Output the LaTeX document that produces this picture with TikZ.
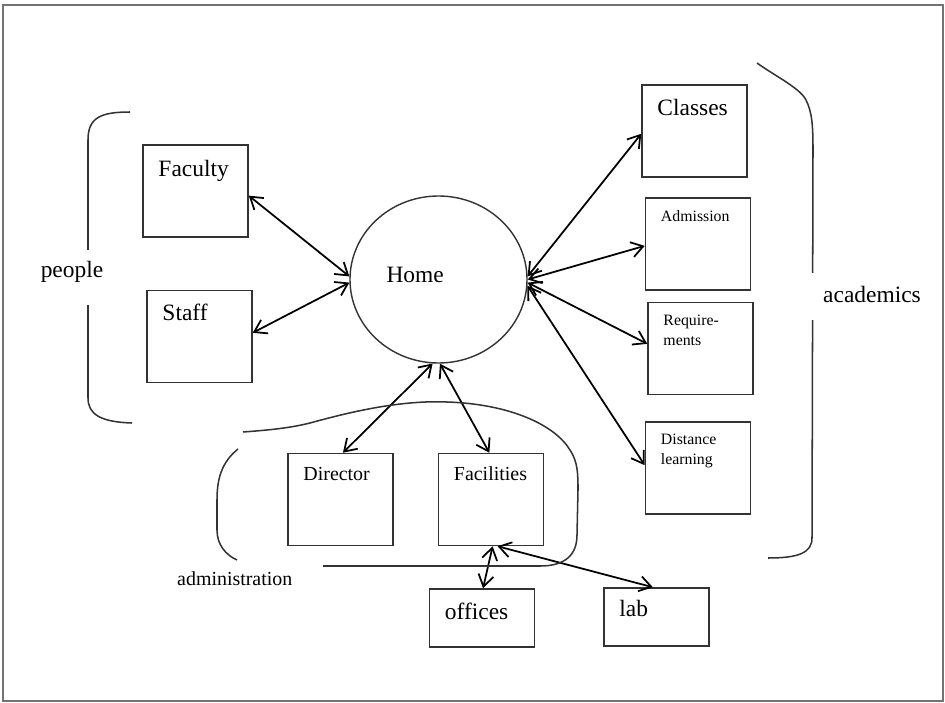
\documentclass[tikz,border=0pt]{standalone}
\usepackage{fontspec}
\setmainfont{Liberation Serif}
\usetikzlibrary{arrows.meta,shapes.geometric}

\tikzset{
  box/.style={draw=black!80, line width=1.3pt, inner sep=0pt, minimum width=3.15cm, minimum height=2.76cm},
  flat/.style={minimum height=1.74cm},
  big/.style={font=\fontsize{20}{24}\selectfont},
  mid/.style={font=\fontsize{17}{20}\selectfont},
  small/.style={font=\fontsize{13.5}{17}\selectfont, align=left},
  tag/.style={anchor=base west, inner sep=0pt, xshift=0.48cm, yshift=-#1},
  link/.style={{Straight Barb[length=10pt,width=13pt]}-{Straight Barb[length=10pt,width=13pt]}, line width=1.5pt},
  hand/.style={black!80, line width=1.3pt},
  brace label/.style={fill=white, inner xsep=0pt, anchor=base}
}

\begin{document}
\begin{tikzpicture}[x=0.03cm, y=-0.03cm]
  \useasboundingbox (0,0) rectangle (945,703);
  \draw[black!55, line width=1.2pt] (3,5) rectangle (943,701);

  % centre
  \node[ellipse, draw=black!80, line width=1.2pt, minimum width=5.31cm, minimum height=5.01cm, inner sep=0pt,
        label={[big, anchor=base west, inner sep=0pt, xshift=1.11cm, yshift=-0.075cm]west:Home}] (home) at (438.5,279.5) {};

  % people
  \node[box, label={[big, tag=0.96cm]north west:Faculty}] (faculty) at (195.5,191) {};
  \node[box, label={[big, tag=0.93cm]north west:Staff}] (staff) at (199.5,336.5) {};

  % academics
  \node[box, label={[big, tag=0.93cm]north west:Classes}] (classes) at (694.5,131) {};
  \node[box, label={[small, tag=0.72cm]north west:Admission}] (admission) at (698,244) {};
  \node[box, label={[small, tag=1.32cm]north west:Require-\\ments}] (requirements) at (700.5,348.5) {};
  \node[box, label={[small, tag=1.29cm]north west:Distance\\learning}] (distance) at (698,468) {};

  % administration
  \node[box, label={[mid, tag=0.84cm]north west:Director}] (director) at (340.5,499.5) {};
  \node[box, label={[mid, tag=0.84cm]north west:Facilities}] (facilities) at (491,499.5) {};
  \node[box, flat, label={[big, tag=0.93cm]north west:offices}] (offices) at (482,618) {};
  \node[box, flat, label={[big, tag=0.87cm]north west:lab}] (lab) at (656.5,617) {};

  \draw[link] (faculty.-5) -- (home.178);
  \draw[link] (staff.4) -- (home.182);
  \draw[link] (home.2) -- (classes.183);
  \draw[link] (home.0) -- (admission.182);
  \draw[link] (home.-2) -- (requirements.175);
  \draw[link] (home.-4) -- (distance.177);
  \draw[link] (home.-94) -- (director.87);
  \draw[link] (home.-89) -- (facilities.92);
  \draw[link] (facilities.-88) -- (offices.88);
  \draw[link] (facilities.-82) -- (lab.97);

  % hand drawn brackets
  \draw[hand] (130,112) .. controls (100,112) and (88,118) .. (88,140) -- (88,398) .. controls (88,414) and (100,422) .. (132,423);
  \node[big, brace label, inner ysep=0pt, text height=0.81cm, text depth=0.84cm] (people) at (72,277) {people};

  \draw[hand] (757,63) .. controls (775,76) and (800,88) .. (806,100) .. controls (812,112) and (813,125) .. (813,150) -- (812,538) .. controls (812,553) and (798,558) .. (768,558);
  \node[big, brace label, inner xsep=0.4cm, inner ysep=0pt, text height=0.87cm, text depth=0.54cm] (academics) at (872,302) {academics};

  \draw[hand] (238,449) .. controls (222,462) and (217,478) .. (217,500) -- (217,530) .. controls (217,545) and (226,555) .. (237,560);
  \draw[hand] (243,432) .. controls (270,430) and (290,428) .. (310,423) .. controls (350,412) and (400,400) .. (447,402) .. controls (510,404) and (555,425) .. (570,450) .. controls (578,462) and (578,475) .. (578,490) -- (577,535) .. controls (577,555) and (565,566) .. (540,566) -- (323,566);
  \node[mid, anchor=base west, inner sep=0pt] (administration) at (177,585) {administration};
\end{tikzpicture}
\end{document}
